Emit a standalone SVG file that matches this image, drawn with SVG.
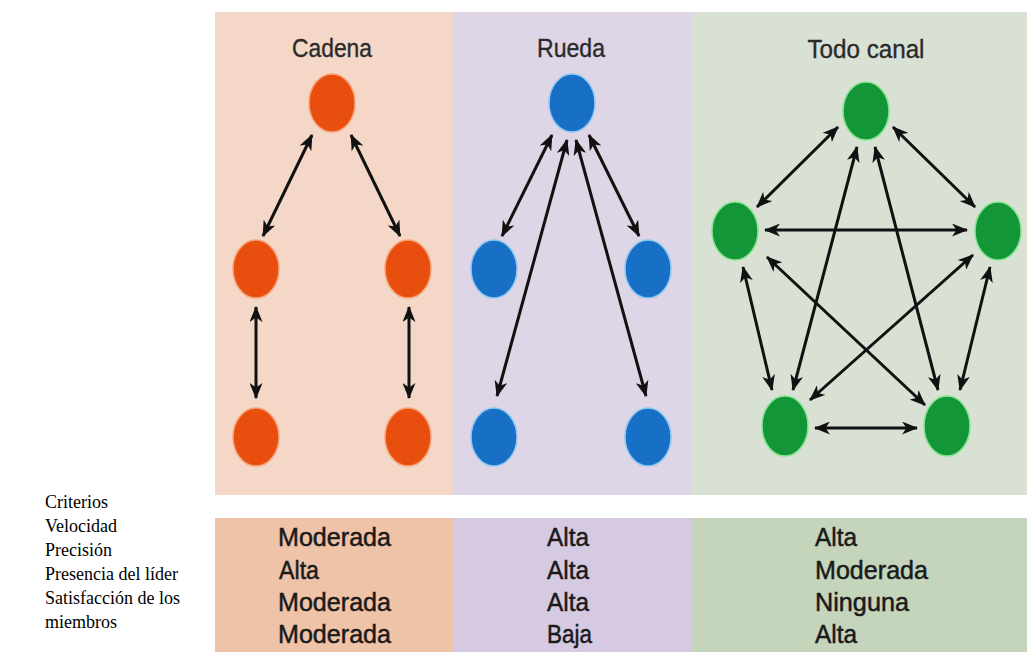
<svg xmlns="http://www.w3.org/2000/svg" width="1031" height="652" viewBox="0 0 1031 652">
  <defs>
    <marker id="head" markerUnits="userSpaceOnUse" markerWidth="17" markerHeight="13" refX="15" refY="6.5" orient="auto-start-reverse" viewBox="0 0 17 13">
      <path d="M0,0 L16,6.5 L0,13 L4.5,6.5 Z" fill="#111"/>
    </marker>
    <style>
      .hdr { font-family: "Liberation Sans", Arial, sans-serif; font-size: 26px; fill: #2a2a2a; stroke: #2a2a2a; stroke-width: 0.35; text-anchor: middle; }
      .cell { font-family: "Liberation Sans", Arial, sans-serif; font-size: 26px; fill: #1a1a1a; stroke: #1a1a1a; stroke-width: 0.5; }
      .lbl { font-family: "Liberation Serif", "Times New Roman", serif; font-size: 18px; fill: #000; }
      .edge { stroke: #111; stroke-width: 3; fill: none; marker-start: url(#head); marker-end: url(#head); }
      .orange { fill: #E84E0E; stroke: #F6A27A; stroke-width: 1.5; }
      .blue { fill: #176FC6; stroke: #8EC8F2; stroke-width: 1.5; }
      .green { fill: #129638; stroke: #86E48E; stroke-width: 1.5; }
    </style>
  </defs>

  <rect width="1031" height="652" fill="#FFFFFF"/>

  <!-- panel backgrounds -->
  <g id="panels">
    <rect x="215" y="12" width="238" height="483" fill="#F4D7C6"/>
    <rect x="453" y="12" width="238" height="483" fill="#DED5E7"/>
    <rect x="691" y="12" width="336" height="483" fill="#D9E0D4"/>
    <rect x="215" y="518" width="238" height="134" fill="#EFC3A7"/>
    <rect x="453" y="518" width="238" height="134" fill="#D6CAE3"/>
    <rect x="691" y="518" width="336" height="134" fill="#C4D5BB"/>
  </g>

  <!-- column titles -->
  <g id="titles">
    <text class="hdr" x="332" y="57" textLength="80" lengthAdjust="spacingAndGlyphs">Cadena</text>
    <text class="hdr" x="571" y="57" textLength="68" lengthAdjust="spacingAndGlyphs">Rueda</text>
    <text class="hdr" x="866" y="58" textLength="117" lengthAdjust="spacingAndGlyphs">Todo canal</text>
  </g>

  <!-- connectors -->
  <g id="connectors">
    <!-- Cadena -->
    <line class="edge" x1="312" y1="135" x2="263" y2="236"/>
    <line class="edge" x1="351" y1="135" x2="400" y2="236"/>
    <line class="edge" x1="256" y1="307" x2="256" y2="398"/>
    <line class="edge" x1="409" y1="307" x2="409" y2="398"/>
    <!-- Rueda -->
    <line class="edge" x1="552" y1="135" x2="502" y2="236"/>
    <line class="edge" x1="589" y1="135" x2="639" y2="236"/>
    <line class="edge" x1="567" y1="140" x2="497" y2="396"/>
    <line class="edge" x1="576" y1="140" x2="646" y2="396"/>
    <!-- Todo canal -->
    <line class="edge" x1="838" y1="127" x2="757" y2="207"/>
    <line class="edge" x1="893" y1="127" x2="975" y2="207"/>
    <line class="edge" x1="765" y1="230" x2="967" y2="230"/>
    <line class="edge" x1="857" y1="147" x2="793" y2="390"/>
    <line class="edge" x1="875" y1="147" x2="938" y2="390"/>
    <line class="edge" x1="743" y1="267" x2="772" y2="390"/>
    <line class="edge" x1="990" y1="267" x2="960" y2="390"/>
    <line class="edge" x1="767" y1="257" x2="925" y2="405"/>
    <line class="edge" x1="973" y1="255" x2="810" y2="400"/>
    <line class="edge" x1="815" y1="428" x2="917" y2="428"/>
  </g>

  <!-- Cadena nodes -->
  <g id="cadena-top"><ellipse class="orange" cx="332" cy="103" rx="23" ry="29"/></g>
  <g id="cadena-mid-left"><ellipse class="orange" cx="256" cy="269" rx="23" ry="29"/></g>
  <g id="cadena-mid-right"><ellipse class="orange" cx="408" cy="269" rx="23" ry="29"/></g>
  <g id="cadena-bottom-left"><ellipse class="orange" cx="256" cy="437" rx="23" ry="29"/></g>
  <g id="cadena-bottom-right"><ellipse class="orange" cx="408" cy="437" rx="23" ry="29"/></g>

  <!-- Rueda nodes -->
  <g id="rueda-top"><ellipse class="blue" cx="572" cy="103" rx="23" ry="29"/></g>
  <g id="rueda-mid-left"><ellipse class="blue" cx="494" cy="269" rx="23" ry="29"/></g>
  <g id="rueda-mid-right"><ellipse class="blue" cx="648" cy="269" rx="23" ry="29"/></g>
  <g id="rueda-bottom-left"><ellipse class="blue" cx="494" cy="437" rx="23" ry="29"/></g>
  <g id="rueda-bottom-right"><ellipse class="blue" cx="648" cy="437" rx="23" ry="29"/></g>

  <!-- Todo canal nodes -->
  <g id="todo-top"><ellipse class="green" cx="866" cy="111" rx="23" ry="29"/></g>
  <g id="todo-left"><ellipse class="green" cx="735" cy="231" rx="23" ry="29"/></g>
  <g id="todo-right"><ellipse class="green" cx="998" cy="231" rx="23" ry="29"/></g>
  <g id="todo-bottom-left"><ellipse class="green" cx="785" cy="426" rx="23" ry="30"/></g>
  <g id="todo-bottom-right"><ellipse class="green" cx="947" cy="426" rx="23" ry="30"/></g>

  <!-- criteria labels -->
  <g id="criteria">
    <text class="lbl" x="45" y="508">Criterios</text>
    <text class="lbl" x="45" y="532">Velocidad</text>
    <text class="lbl" x="45" y="556">Precisión</text>
    <text class="lbl" x="45" y="580">Presencia del líder</text>
    <text class="lbl" x="45" y="604">Satisfacción de los</text>
    <text class="lbl" x="45" y="628">miembros</text>
  </g>

  <!-- table values -->
  <g id="table-cadena">
    <text class="cell" x="278" y="546" textLength="113" lengthAdjust="spacingAndGlyphs">Moderada</text>
    <text class="cell" x="279" y="579" textLength="40" lengthAdjust="spacingAndGlyphs">Alta</text>
    <text class="cell" x="278" y="611" textLength="113" lengthAdjust="spacingAndGlyphs">Moderada</text>
    <text class="cell" x="278" y="643" textLength="113" lengthAdjust="spacingAndGlyphs">Moderada</text>
  </g>
  <g id="table-rueda">
    <text class="cell" x="547" y="546" textLength="42" lengthAdjust="spacingAndGlyphs">Alta</text>
    <text class="cell" x="547" y="579" textLength="42" lengthAdjust="spacingAndGlyphs">Alta</text>
    <text class="cell" x="547" y="611" textLength="42" lengthAdjust="spacingAndGlyphs">Alta</text>
    <text class="cell" x="547" y="643" textLength="45" lengthAdjust="spacingAndGlyphs">Baja</text>
  </g>
  <g id="table-todo">
    <text class="cell" x="815" y="546" textLength="42" lengthAdjust="spacingAndGlyphs">Alta</text>
    <text class="cell" x="815" y="579" textLength="113" lengthAdjust="spacingAndGlyphs">Moderada</text>
    <text class="cell" x="815" y="611" textLength="94" lengthAdjust="spacingAndGlyphs">Ninguna</text>
    <text class="cell" x="815" y="643" textLength="42" lengthAdjust="spacingAndGlyphs">Alta</text>
  </g>
</svg>
